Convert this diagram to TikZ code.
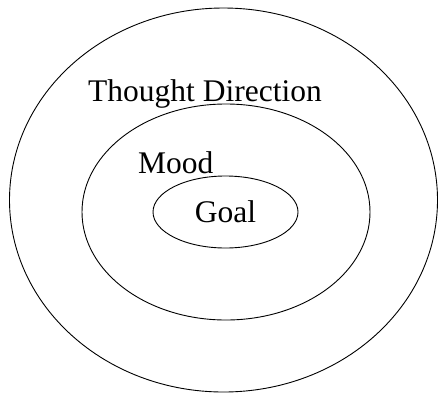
\documentclass[tikz,border=0pt]{standalone}
\usepackage{fontspec}
\setmainfont{Liberation Serif}
\usetikzlibrary{shapes.geometric}

\begin{document}
\begin{tikzpicture}[
    x=1pt, y=-1pt,
    ring/.style = {draw, ellipse, line width=0.9pt, inner sep=0pt},
    lbl/.style  = {anchor=base west, inner sep=0pt,
                   font=\fontsize{31.5}{36}\selectfont},
]
\useasboundingbox (0,0) rectangle (438,394);
\node[ring, minimum width=428pt, minimum height=384pt] (outer) at (223.5,200) {};
\node[ring, minimum width=288pt, minimum height=216pt] (middle) at (226,212) {};
\node[ring, minimum width=145pt, minimum height=72pt, font=\fontsize{31.5}{36}\selectfont]
     (goal) at (225.5,212) {Goal};
\node[lbl] (thought) at (88,101) {Thought Direction};
\node[lbl] (mood)    at (138,173) {Mood};
\end{tikzpicture}
\end{document}
